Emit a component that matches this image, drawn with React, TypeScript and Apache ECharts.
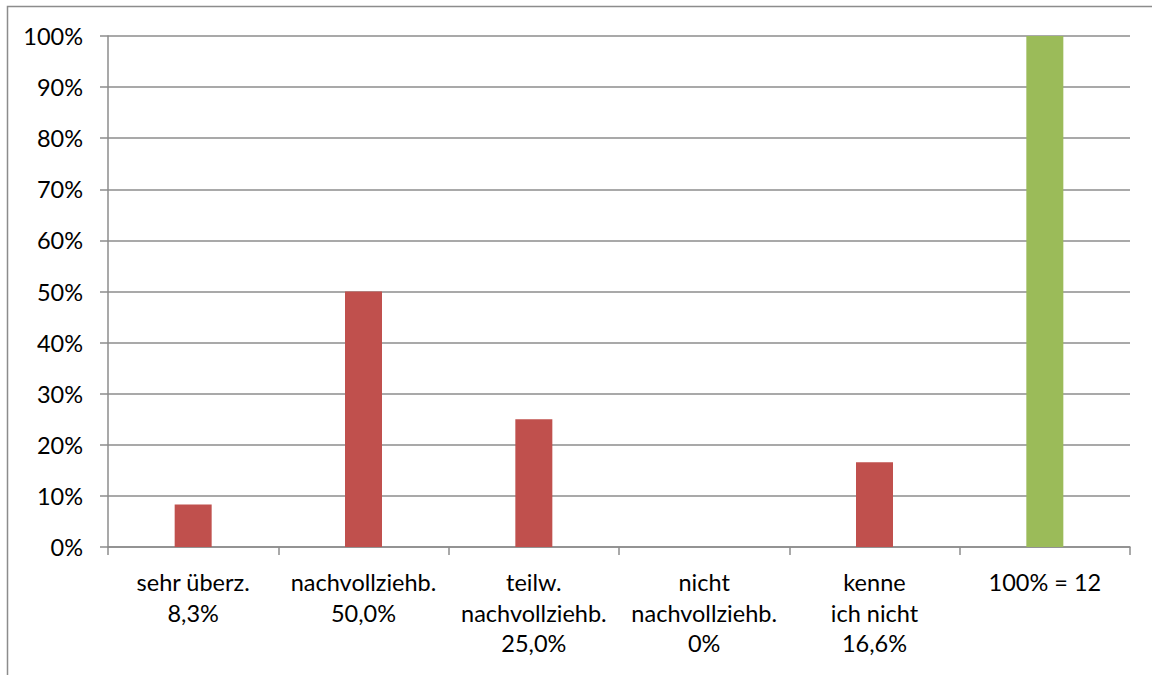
import React, { useEffect, useRef } from "react";
import * as echarts from "echarts";

const categories = [
  "sehr überz.\n8,3%",
  "nachvollziehb.\n50,0%",
  "teilw.\nnachvollziehb.\n25,0%",
  "nicht\nnachvollziehb.\n0%",
  "kenne\nich nicht\n16,6%",
  "100% = 12",
];
const values = [8.3, 50.0, 25.0, 0, 16.6, 100];
const barColors = ["#C0504D", "#C0504D", "#C0504D", "#C0504D", "#C0504D", "#9BBB59"];

export default function App() {
  const ref = useRef<HTMLDivElement>(null);
  useEffect(() => {
    if (!ref.current) return;
    const chart = echarts.init(ref.current, undefined, { renderer: "svg" });
    const font = "Lato, 'Open Sans', sans-serif";
    chart.setOption({
      animation: false,
      backgroundColor: "#ffffff",
      textStyle: { fontFamily: font },
      graphic: [
        {
          type: "rect",
          shape: { x: 7.5, y: 6.5, width: 1170, height: 700 },
          style: { fill: "none", stroke: "#8c8c8c", lineWidth: 1.5 },
          silent: true,
        },
      ],
      grid: { left: 108, right: 22, top: 36, bottom: 128, containLabel: false },
      xAxis: {
        type: "category",
        data: categories,
        boundaryGap: true,
        axisLine: { show: true, lineStyle: { color: "#8c8c8c", width: 1.5 } },
        axisTick: { show: true, length: 8, lineStyle: { color: "#8c8c8c", width: 1.5 } },
        axisLabel: {
          interval: 0,
          margin: 20,
          fontSize: 23.5,
          lineHeight: 30.5,
          color: "#000000",
          fontFamily: font,
          align: "center",
        },
      },
      yAxis: {
        type: "value",
        min: 0,
        max: 100,
        interval: 10,
        axisLine: { show: true, lineStyle: { color: "#8c8c8c", width: 1.5 } },
        axisTick: { show: true, length: 8, lineStyle: { color: "#8c8c8c", width: 1.5 } },
        axisLabel: {
          formatter: "{value}%",
          margin: 25,
          fontSize: 23.5,
          color: "#000000",
          fontFamily: font,
        },
        splitLine: { show: true, lineStyle: { color: "#8c8c8c", width: 1.5 } },
      },
      series: [
        {
          type: "bar",
          barWidth: 37,
          data: values.map((v, i) => ({ value: v, itemStyle: { color: barColors[i] } })),
        },
      ],
    });
    return () => chart.dispose();
  }, []);
  return (
    <div
      ref={ref}
      style={{ position: "fixed", left: 0, top: 0, width: 1152, height: 675, background: "#fff" }}
    />
  );
}
